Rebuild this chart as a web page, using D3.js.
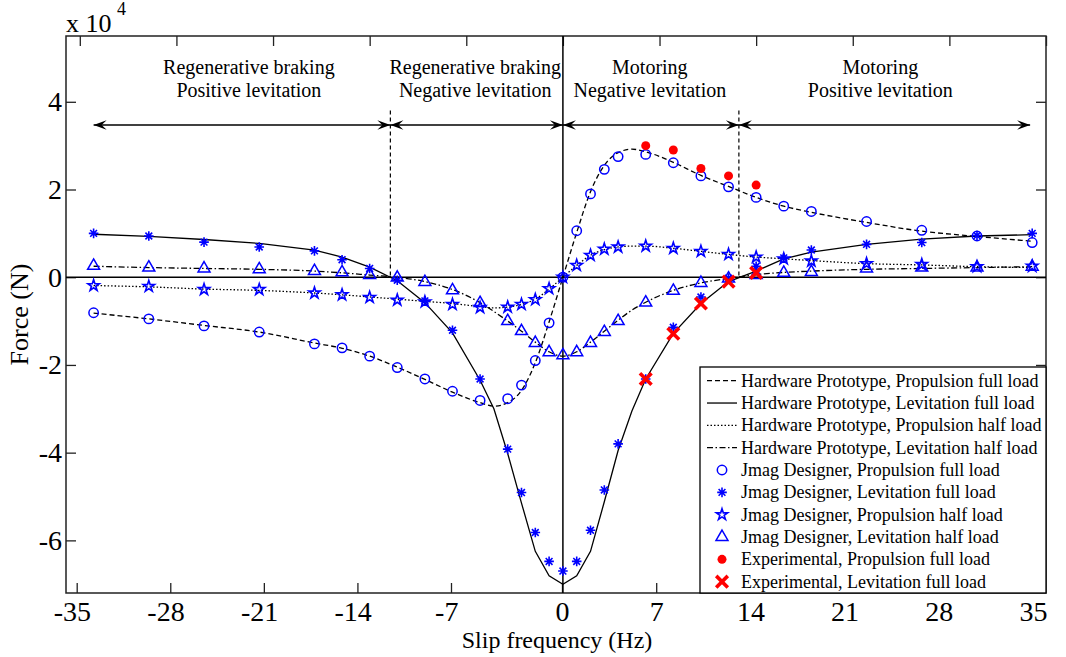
<!DOCTYPE html>
<html>
<head>
<meta charset="utf-8">
<script src="https://cdn.jsdelivr.net/npm/d3@7"></script>
<style>
  body { margin: 0; background: #fff; }
  svg text { font-family: "Liberation Serif", "Times New Roman", serif; fill: #000; }
</style>
</head>
<body>
<svg id="chart" width="1066" height="657"></svg>
<script>
// ---- Data (force in units of 1e4 N, slip frequency in Hz) ----
const slipHw = [-34,-30,-26,-22,-18,-16,-14,-12,-10,-8,-6,-5,-4,-3,-2,-1,0,1,2,3,4,5,6,8,10,12,14,16,18,22,26,30,34];
const hwPropFull = [-0.82,-0.95,-1.10,-1.25,-1.50,-1.62,-1.80,-2.05,-2.33,-2.62,-2.86,-2.94,-2.86,-2.58,-1.95,-1.02,0,1.02,1.95,2.55,2.84,2.92,2.86,2.62,2.32,2.07,1.82,1.62,1.48,1.25,1.05,0.93,0.82];
const hwLevFull  = [0.98,0.93,0.86,0.77,0.62,0.46,0.23,-0.08,-0.58,-1.27,-2.35,-3.0,-4.02,-5.15,-6.25,-6.81,-7.0,-6.81,-6.25,-5.12,-3.95,-3.05,-2.32,-1.28,-0.6,-0.1,0.14,0.42,0.57,0.75,0.87,0.94,0.97];
const hwPropHalf = [-0.19,-0.22,-0.27,-0.30,-0.36,-0.40,-0.45,-0.50,-0.55,-0.60,-0.67,-0.70,-0.68,-0.62,-0.50,-0.27,0,0.27,0.50,0.63,0.69,0.71,0.71,0.66,0.59,0.52,0.46,0.42,0.38,0.31,0.28,0.24,0.22];
const hwLevHalf  = [0.25,0.22,0.20,0.18,0.14,0.10,0.05,0.0,-0.10,-0.28,-0.58,-0.78,-1.0,-1.23,-1.48,-1.70,-1.80,-1.70,-1.48,-1.23,-0.98,-0.75,-0.57,-0.30,-0.13,-0.03,0.06,0.11,0.14,0.18,0.20,0.22,0.24];

const slipFem = [-34,-30,-26,-22,-18,-16,-14,-12,-10,-8,-6,-4,-3,-2,-1,0,1,2,3,4,6,8,10,12,14,16,18,22,26,30,34];
const femPropFull = [-0.81,-0.95,-1.11,-1.25,-1.52,-1.61,-1.80,-2.06,-2.32,-2.60,-2.81,-2.77,-2.46,-1.90,-1.04,0,1.06,1.90,2.46,2.75,2.80,2.61,2.31,2.06,1.82,1.62,1.50,1.27,1.07,0.94,0.79];
const femLevFull  = [1.00,0.94,0.80,0.69,0.60,0.40,0.20,-0.07,-0.54,-1.21,-2.32,-3.92,-4.91,-5.82,-6.48,-6.70,-6.48,-5.77,-4.85,-3.80,-2.32,-1.14,-0.45,-0.02,0.25,0.44,0.62,0.75,0.79,0.95,1.00];
const femPropHalf = [-0.19,-0.21,-0.28,-0.28,-0.36,-0.40,-0.46,-0.52,-0.56,-0.62,-0.69,-0.68,-0.62,-0.51,-0.26,0,0.27,0.50,0.64,0.69,0.71,0.66,0.59,0.52,0.46,0.42,0.37,0.31,0.29,0.24,0.25];
const femLevHalf  = [0.26,0.22,0.20,0.18,0.14,0.11,0.05,-0.01,-0.11,-0.30,-0.59,-1.00,-1.23,-1.50,-1.71,-1.78,-1.71,-1.50,-1.25,-1.00,-0.58,-0.31,-0.13,-0.03,0.05,0.10,0.12,0.20,0.22,0.22,0.24];

const slipExp = [6,8,10,12,14];
const expPropFull = [3.00,2.90,2.48,2.31,2.10];
const expLevFull  = [-2.32,-1.29,-0.60,-0.10,0.10];

const xTicks = [-35,-28,-21,-14,-7,0,7,14,21,28,35];
const yTicks = [-6,-4,-2,0,2,4];

// operating regions
const regionBounds = [-12.5, 12.75];
const regionSpans = [[-34,-12.5],[-12.5,0],[0,12.75],[12.75,33.85]];
const regionCenters = [-22.75,-6.35,6.3,23.0];
const regionText = [
  ["Regenerative braking","Positive levitation"],
  ["Regenerative braking","Negative levitation"],
  ["Motoring","Negative levitation"],
  ["Motoring","Positive levitation"]
];

const legendLabels = [
  "Hardware Prototype, Propulsion full load",
  "Hardware Prototype, Levitation full load",
  "Hardware Prototype, Propulsion half load",
  "Hardware Prototype, Levitation half load",
  "Jmag Designer, Propulsion full load",
  "Jmag Designer, Levitation full load",
  "Jmag Designer, Propulsion half load",
  "Jmag Designer, Levitation half load",
  "Experimental, Propulsion full load",
  "Experimental, Levitation full load"
];

// ---- Layout ----
const L = 66, R = 1046, T = 36, B = 593;
const svg = d3.select("#chart");
const x = d3.scaleLinear().domain([-36, 35]).range([L, R]);
const y = d3.scaleLinear().domain([-7.2, 5.5]).range([B, T]);
// printed tick positions along the bottom edge
const xBottom = d3.scaleLinear().domain([-35, -7, 0, 35]).range([76.7, 451, 562, 1033]);

const BLUE = "#0000ff", RED = "#ff0000", AX = "#222";
const plainNum = d => String(d);

// line styles
const dashStyles = { dashed: "5,3", solid: null, dotted: "1.5,2", dashdot: "6,2.5,1.5,2.5" };

// marker painters (drawn around 0,0)
function asteriskPath(s) {
  const p = d3.path(), d = s * 0.7071;
  p.moveTo(-s, 0); p.lineTo(s, 0);
  p.moveTo(0, -s); p.lineTo(0, s);
  p.moveTo(-d, -d); p.lineTo(d, d);
  p.moveTo(-d, d); p.lineTo(d, -d);
  return p.toString();
}
function timesPath(s) {
  const p = d3.path();
  p.moveTo(-s, -s); p.lineTo(s, s);
  p.moveTo(-s, s); p.lineTo(s, -s);
  return p.toString();
}
const markers = {
  circle:   g => g.append("circle").attr("r", 4.7).attr("fill", "none").attr("stroke", BLUE).attr("stroke-width", 1.5),
  asterisk: g => g.append("path").attr("d", asteriskPath(4.8)).attr("fill", "none").attr("stroke", BLUE).attr("stroke-width", 1.6),
  star:     g => g.append("path").attr("d", d3.symbol(d3.symbolStar, 40)()).attr("fill", "none").attr("stroke", BLUE).attr("stroke-width", 1.6),
  triangle: g => g.append("path").attr("d", d3.symbol(d3.symbolTriangle, 62)()).attr("fill", "none").attr("stroke", BLUE).attr("stroke-width", 1.5),
  dot:      g => g.append("circle").attr("r", 4.5).attr("fill", RED),
  cross:    g => g.append("path").attr("d", timesPath(5.8)).attr("fill", "none").attr("stroke", RED).attr("stroke-width", 3.6)
};

// ---- Frame ----
svg.append("rect").attr("x", L).attr("y", T).attr("width", R - L).attr("height", B - T)
  .attr("fill", "#fff").attr("stroke", AX).attr("stroke-width", 1.5);

// ---- Axes ----
function styleAxis(g) {
  g.select(".domain").remove();
  g.selectAll(".tick line").attr("stroke", AX).attr("stroke-width", 1.3);
}
svg.append("g").attr("transform", `translate(0,${T})`)
  .call(d3.axisTop(x).tickValues(xTicks).tickSizeInner(-10).tickSizeOuter(0).tickFormat(""))
  .call(styleAxis);
svg.append("g").attr("transform", `translate(${R},0)`)
  .call(d3.axisRight(y).tickValues(yTicks).tickSizeInner(-10).tickSizeOuter(0).tickFormat(""))
  .call(styleAxis);
const gx = svg.append("g").attr("transform", `translate(0,${B})`)
  .call(d3.axisBottom(xBottom).tickValues(xTicks).tickSizeInner(-10).tickSizeOuter(0).tickPadding(8).tickFormat(plainNum))
  .call(styleAxis);
gx.selectAll("text").attr("font-size", 28).attr("font-family", "Liberation Serif")
  .attr("dx", d => d < 0 ? "-0.17em" : 0);
const gy = svg.append("g").attr("transform", `translate(${L},0)`)
  .call(d3.axisLeft(y).tickValues(yTicks).tickSizeInner(-10).tickSizeOuter(0).tickPadding(4).tickFormat(plainNum))
  .call(styleAxis);
gy.selectAll("text").attr("font-size", 28).attr("font-family", "Liberation Serif");

// exponent
svg.append("text").attr("x", L).attr("y", 32).attr("font-size", 26).text("x 10");
svg.append("text").attr("x", 117).attr("y", 15).attr("font-size", 18).text("4");

// axis titles
svg.append("text").attr("x", 557).attr("y", 648).attr("text-anchor", "middle")
  .attr("font-size", 24).text("Slip frequency (Hz)");
svg.append("text").attr("transform", `translate(28,${(T + B) / 2}) rotate(-90)`)
  .attr("text-anchor", "middle").attr("font-size", 26).text("Force (N)");

// ---- Reference lines ----
svg.append("line").attr("x1", L).attr("x2", R).attr("y1", y(0)).attr("y2", y(0))
  .attr("stroke", "#000").attr("stroke-width", 1.5);
svg.append("line").attr("x1", x(0)).attr("x2", x(0)).attr("y1", T).attr("y2", B)
  .attr("stroke", "#000").attr("stroke-width", 1.5);
svg.selectAll(".bound").data(regionBounds).join("line")
  .attr("x1", d => x(d)).attr("x2", d => x(d)).attr("y1", y(3.8)).attr("y2", y(0))
  .attr("stroke", "#000").attr("stroke-width", 1.2).attr("stroke-dasharray", "4,3");

// ---- Region arrows ----
function headPath(tipX, tipY, dir) {
  const len = 13, half = 4.8, notch = 8;
  const p = d3.path();
  p.moveTo(tipX, tipY);
  p.lineTo(tipX - dir * len, tipY - half);
  p.lineTo(tipX - dir * notch, tipY);
  p.lineTo(tipX - dir * len, tipY + half);
  p.closePath();
  return p.toString();
}
const arrowY = 3.47;
const arrows = svg.append("g");
regionSpans.forEach(([a, b]) => {
  arrows.append("line").attr("x1", x(a)).attr("x2", x(b)).attr("y1", y(arrowY)).attr("y2", y(arrowY))
    .attr("stroke", "#000").attr("stroke-width", 1.5);
  arrows.append("path").attr("d", headPath(x(a), y(arrowY), -1)).attr("fill", "#000");
  arrows.append("path").attr("d", headPath(x(b), y(arrowY), 1)).attr("fill", "#000");
});
regionText.forEach((lines, i) => {
  const t = svg.append("text").attr("text-anchor", "middle").attr("font-size", 20);
  lines.forEach((s, j) => t.append("tspan").attr("x", x(regionCenters[i])).attr("y", y(j === 0 ? 4.63 : 4.1)).text(s));
});

// ---- Hardware prototype curves ----
function series(xs, ys) { return xs.map((v, i) => [v, ys[i]]); }
const lineSmooth = d3.line().x(d => x(d[0])).y(d => y(d[1])).curve(d3.curveMonotoneX);
const lineStraight = d3.line().x(d => x(d[0])).y(d => y(d[1]));
const hwCurves = [
  { data: series(slipHw, hwPropFull), style: "dashed", gen: lineSmooth },
  { data: series(slipHw, hwLevFull), style: "solid", gen: lineStraight },
  { data: series(slipHw, hwPropHalf), style: "dotted", gen: lineSmooth },
  { data: series(slipHw, hwLevHalf), style: "dashdot", gen: lineSmooth }
];
hwCurves.forEach(c => {
  svg.append("path").attr("d", c.gen(c.data)).attr("fill", "none")
    .attr("stroke", "#000").attr("stroke-width", 1.3)
    .attr("stroke-dasharray", dashStyles[c.style]);
});

// ---- Point series ----
const pointSets = [
  { data: series(slipFem, femPropFull), marker: "circle" },
  { data: series(slipFem, femLevFull), marker: "asterisk" },
  { data: series(slipFem, femPropHalf), marker: "star" },
  { data: series(slipFem, femLevHalf), marker: "triangle" },
  { data: series(slipExp, expPropFull), marker: "dot" },
  { data: series(slipExp, expLevFull), marker: "cross" }
];
pointSets.forEach(s => {
  svg.append("g").selectAll("g").data(s.data).join("g")
    .attr("transform", d => `translate(${x(d[0])},${y(d[1])})`)
    .each(function () { markers[s.marker](d3.select(this)); });
});

// ---- Legend ----
const lg = svg.append("g");
lg.append("rect").attr("x", 700).attr("y", 367).attr("width", R - 700).attr("height", B - 367)
  .attr("fill", "#fff").attr("stroke", "#000").attr("stroke-width", 1.3);
const legendKeys = [
  { line: "dashed" }, { line: "solid" }, { line: "dotted" }, { line: "dashdot" },
  { marker: "circle" }, { marker: "asterisk" }, { marker: "star" }, { marker: "triangle" },
  { marker: "dot" }, { marker: "cross" }
];
legendLabels.forEach((lab, i) => {
  const cy = 380.7 + i * 22.33;
  const k = legendKeys[i];
  if (k.line) {
    lg.append("line").attr("x1", 707).attr("x2", 737).attr("y1", cy).attr("y2", cy)
      .attr("stroke", "#000").attr("stroke-width", 1.3).attr("stroke-dasharray", dashStyles[k.line]);
  } else {
    markers[k.marker](lg.append("g").attr("transform", `translate(722,${cy})`));
  }
  lg.append("text").attr("x", 741).attr("y", cy + 6).attr("font-size", 18).text(lab);
});
</script>
</body>
</html>
